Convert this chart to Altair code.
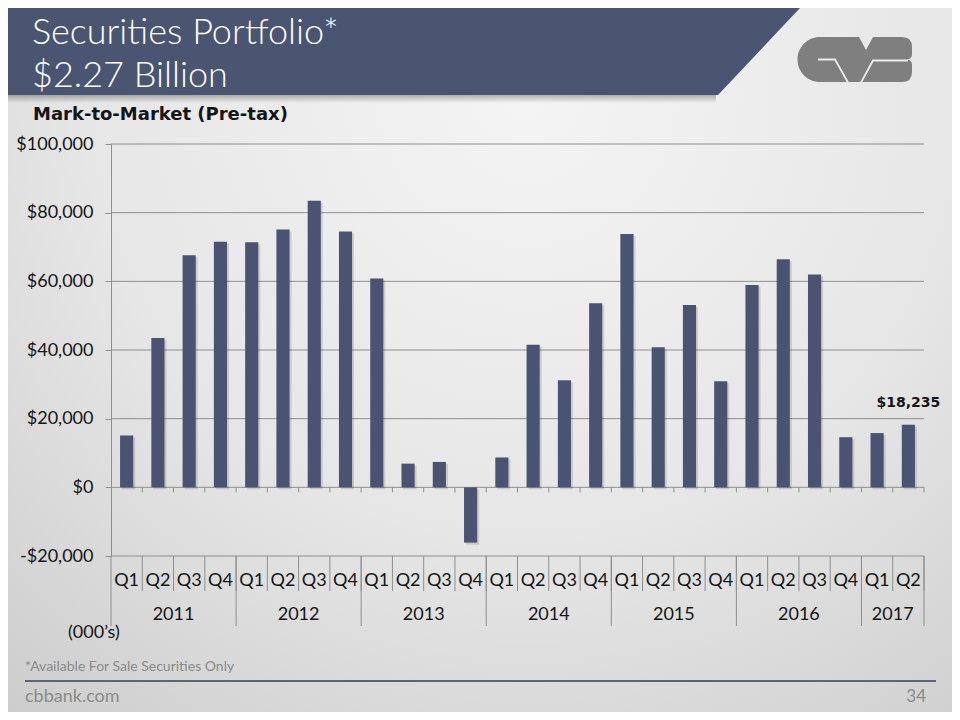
import altair as alt
import pandas as pd

# ---------------- data ----------------
years = ["2011", "2012", "2013", "2014", "2015", "2016", "2017"]
quarters = ["Q1", "Q2", "Q3", "Q4"] * 6 + ["Q1", "Q2"]
quarter_years = [y for y in years[:6] for _ in range(4)] + ["2017", "2017"]
values = [15100, 43500, 67600, 71500, 71400, 75100, 83500, 74500,
          60800, 6900, 7400, -16100, 8700, 41500, 31200, 53600,
          73800, 40800, 53100, 30900, 58900, 66400, 62000, 14600,
          15800, 18235]
y_ticks = [-20000, 0, 20000, 40000, 60000, 80000, 100000]
callout_index = 25

title_lines = ["Securities Portfolio*", "$2.27 Billion"]
subtitle = "Mark-to-Market (Pre-tax)"
units_note = "(000\u2019s)"
footnote = "*Available For Sale Securities Only"
site = "cbbank.com"
page_no = "34"

# ---------------- tables ----------------
keys = [f"{y} {q}" for y, q in zip(quarter_years, quarters)]
df = pd.DataFrame({"key": keys, "quarter": quarters, "year": quarter_years,
                   "value": values, "zero": [0] * len(keys)})

year_start_keys, year_anchor_keys = [], []
for y in years:
    ks = [k for k, yy in zip(keys, quarter_years) if yy == y]
    year_start_keys.append(ks[0])
    year_anchor_keys.append(ks[len(ks) // 2 - 1])
df_ystart = pd.DataFrame({"key": year_start_keys})
df_yanchor = pd.DataFrame({"key": year_anchor_keys, "year": years})
df_end = pd.DataFrame({"key": [keys[-1]]})
df_grid = pd.DataFrame({"v": y_ticks})
one = pd.DataFrame({"a": [0]})

# ---------------- styling ----------------
W, H = 813, 412
BAR = "#4a5472"
BANNER = "#4a5572"
GRID = "#8e8e8e"
TXT = "#141414"
FONT = "Lato"

xscale = alt.Scale(paddingInner=0, paddingOuter=0)
yscale = alt.Scale(domain=[-20000, 100000], nice=False, zero=False)
yaxis = alt.Axis(values=y_ticks, title=None, grid=False,
                 labelExpr="datum.value < 0 ? '-$' + format(-datum.value, ',') : '$' + format(datum.value, ',')",
                 labelFont=FONT, labelFontSize=18, labelColor=TXT,
                 labelPadding=12, tickSize=6, tickColor=GRID, domainColor=GRID,
                 zindex=1)


def xenc(bp=0.5):
    return alt.X("key:N", sort=keys, scale=xscale, axis=None, bandPosition=bp)


def yenc(field):
    return alt.Y(f"{field}:Q", scale=yscale, axis=yaxis)


# ---------------- layers ----------------
radial = {"gradient": "radial", "x1": 0.55, "y1": 0.22, "r1": 0,
          "x2": 0.55, "y2": 0.22, "r2": 0.85,
          "stops": [{"offset": 0, "color": "#f4f4f4"},
                    {"offset": 0.55, "color": "#e6e6e6"},
                    {"offset": 1, "color": "#cdcdcd"}]}
bg = alt.Chart(one).mark_rect(color=radial).encode(
    x=alt.value(-103), x2=alt.value(841), y=alt.value(-136), y2=alt.value(568))

shadow_grad = {"gradient": "linear", "x1": 0, "y1": 0, "x2": 0, "y2": 1,
               "stops": [{"offset": 0, "color": "rgba(0,0,0,0.28)"},
                         {"offset": 1, "color": "rgba(0,0,0,0)"}]}
banner_shadow = alt.Chart(one).mark_rect(color=shadow_grad).encode(
    x=alt.value(-103), x2=alt.value(605), y=alt.value(-49), y2=alt.value(-41))

banner = alt.Chart(one).mark_point(
    shape="M0,0 L792,0 L710,87 L0,87 Z", size=4, filled=True,
    fill=BANNER, opacity=1, strokeWidth=0).encode(x=alt.value(-103), y=alt.value(-136))

title1 = alt.Chart(one).mark_text(
    text=title_lines[0], font=FONT, fontSize=36, fontWeight=300, color="white",
    align="left", baseline="alphabetic").encode(x=alt.value(-79), y=alt.value(-100))
title2 = alt.Chart(one).mark_text(
    text=title_lines[1], font=FONT, fontSize=36, fontWeight=300, color="white",
    align="left", baseline="alphabetic").encode(x=alt.value(-79), y=alt.value(-57))

sub = alt.Chart(one).mark_text(
    text=subtitle, font="DejaVu Sans", fontSize=18, fontWeight="bold", color=TXT,
    align="left", baseline="alphabetic").encode(x=alt.value(-78), y=alt.value(-24))

logo_body = alt.Chart(one).mark_point(
    shape=("M22,0 L61,0 L68,13 L75,0 L104,0 Q114,0 114,10 L114,17 Q114,22 109,22.5 "
           "Q114,23 114,28 L114,35 Q114,45 104,45 L22,45 A22.5,22.5 0 0 1 22,0 Z"),
    size=4, filled=True, fill="#7f7f7f", opacity=1, strokeWidth=0).encode(
    x=alt.value(687), y=alt.value(-107))
logo_cuts = alt.Chart(one).mark_point(
    shape="M20,22.5 L37,22.5 L50,45.5 M63,45.5 L75,23.5 L110,23.5",
    size=4, filled=False, stroke="#ececec", strokeWidth=1.8, opacity=1).encode(
    x=alt.value(687), y=alt.value(-107))

grid = alt.Chart(df_grid).mark_rule(color=GRID, strokeWidth=1).encode(
    y=yenc("v"), x=alt.value(0), x2=alt.value(W))

bar_shadow = alt.Chart(df).mark_bar(
    width=alt.RelativeBandSize(0.42), color="#000000", opacity=0.13,
    xOffset=2, yOffset=2).encode(x=xenc(0.5), y=yenc("value"))
bars = alt.Chart(df).mark_bar(
    width=alt.RelativeBandSize(0.42), color=BAR).encode(x=xenc(0.5), y=yenc("value"))

zero_ticks = alt.Chart(df).mark_rule(color=GRID, strokeWidth=1, y2Offset=5).encode(
    x=xenc(1), y=yenc("zero"), y2="zero:Q")

q_sep = alt.Chart(df).mark_rule(color=GRID, strokeWidth=1).encode(
    x=xenc(1), y=alt.value(H), y2=alt.value(H + 35))
y_sep = alt.Chart(df_ystart).mark_rule(color=GRID, strokeWidth=1).encode(
    x=xenc(0), y=alt.value(H), y2=alt.value(H + 70))
end_sep = alt.Chart(df_end).mark_rule(color=GRID, strokeWidth=1).encode(
    x=xenc(1), y=alt.value(H), y2=alt.value(H + 70))

q_labels = alt.Chart(df).mark_text(
    font=FONT, fontSize=18, color=TXT, baseline="middle", align="center").encode(
    x=xenc(0.5), y=alt.value(H + 25), text="quarter:N")
y_labels = alt.Chart(df_yanchor).mark_text(
    font=FONT, fontSize=18, color=TXT, baseline="middle", align="center").encode(
    x=xenc(1), y=alt.value(H + 58.5), text="year:N")

callout = alt.Chart(df.iloc[[callout_index]]).mark_text(
    font="DejaVu Sans", fontWeight="bold", fontSize=14, color=TXT,
    dy=-18, baseline="alphabetic", align="center").encode(
    x=xenc(0.5), y=yenc("value"), text=alt.Text("value:Q", format="$,.0f"))

units = alt.Chart(one).mark_text(
    text=units_note, font=FONT, fontSize=18, color=TXT, align="left",
    baseline="middle").encode(x=alt.value(-43), y=alt.value(489))
foot = alt.Chart(one).mark_text(
    text=footnote, font=FONT, fontSize=14, color="#8a8a8a", align="left",
    baseline="middle").encode(x=alt.value(-86), y=alt.value(522.7))
foot_line = alt.Chart(one).mark_rule(color="#5b6479", strokeWidth=2).encode(
    x=alt.value(-86), x2=alt.value(825), y=alt.value(537))
site_t = alt.Chart(one).mark_text(
    text=site, font=FONT, fontSize=18, color="#8a8a8a", align="left",
    baseline="middle").encode(x=alt.value(-86), y=alt.value(553))
page_t = alt.Chart(one).mark_text(
    text=page_no, font=FONT, fontSize=17, color="#8a8a8a", align="right",
    baseline="middle").encode(x=alt.value(815), y=alt.value(553))

chart = alt.layer(
    bg, banner_shadow, banner, title1, title2, sub, logo_body, logo_cuts,
    grid, bar_shadow, bars, zero_ticks, q_sep, y_sep, end_sep,
    q_labels, y_labels, callout, units, foot, foot_line, site_t, page_t
).properties(
    width=W, height=H,
    autosize=alt.AutoSizeParams(type="none"),
    padding={"left": 103, "top": 136, "right": 28, "bottom": 156},
    background="#e2e2e2",
).configure_view(stroke=None)

chart.save("out.html", embed_options={"renderer": "svg", "actions": False})
